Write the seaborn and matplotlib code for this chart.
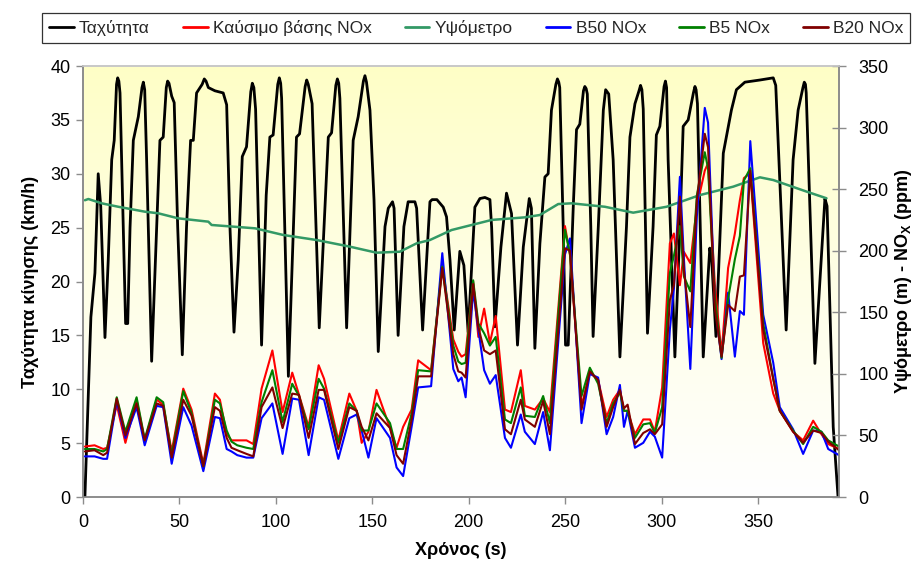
import numpy as np
import pandas as pd
import matplotlib
matplotlib.use("Agg")
import matplotlib.pyplot as plt
import seaborn as sns
from matplotlib.colors import LinearSegmentedColormap


# ============================================================
# DATA
# ============================================================

# Ταχύτητα (km/h)
speed_t = [1, 4.1, 6.2, 7.9, 9.2, 11.4, 13.1, 14.9, 16.2, 17.4, 18.0, 18.6, 19.2, 20.9, 22.1, 23.2, 24.4, 26.1, 28.7, 30.6, 31.3, 32.0, 33.0, 35.6,
           38.2, 39.9, 41.6, 43.2, 43.9, 44.6, 46.0, 47.3, 49.1, 51.5, 53.7, 55.8, 57.2, 58.9, 61.8, 62.9, 63.8, 65.0, 68.4, 72.7, 74.5, 76.2, 78.3, 80.5,
           82.6, 84.8, 87.0, 87.8, 88.6, 89.5, 92.6, 95.0, 96.9, 98.6, 101.0, 101.8, 102.5, 103.0, 106.5, 110.7, 112.3, 115.2, 116.0, 116.8, 117.7, 118.8, 122.5, 127.2, 128.9, 131.1, 131.9, 132.6,
           133.2, 136.7, 140.1, 142.7, 145.4, 146.2, 147.0, 148.8, 150.9, 153.1, 156.6, 158.3, 160.5, 161.3, 163.4, 166.4, 168.6, 172.1, 173.0, 176.1, 179.9, 181.0,
           183.5, 186.8, 188.5, 190.3, 192.5, 195.4, 197.5, 199.7, 203.2, 205.8, 208.4, 211.0, 211.9, 213.6, 216.7, 219.6, 222.2, 225.3, 228.3, 231.4,
           232.5, 234.3, 236.9, 239.5, 241.2, 242.9, 245.2, 246.0, 246.7, 247.2, 249.0, 250.2, 251.6, 254.2, 255.9, 257.6, 259.5, 260.2, 260.9, 261.5, 263.3, 264.5, 267.2, 269.8,
           271.0, 272.6, 274.9, 278.4, 281.8, 283.6, 286.2, 288.3, 289.1, 289.8, 290.5, 292.7, 295.6, 297.3, 299.1, 301.3, 302.0, 302.6, 303.4, 306.9, 309.5, 311.2, 313.8, 316.5, 317.3, 317.9,
           318.6, 321.6, 325.0, 326.0, 328.2, 332.0, 336.2, 338.8, 343.2, 351.0, 357.9, 359.2, 364.6, 368.2, 370.8, 373.3, 374.0, 374.6, 375.0, 379.5, 384.7, 385.8,
           389.0, 391.5]
speed_kmh = [0, 16.7, 20.8, 30.0, 27.0, 14.8, 22.0, 31.3, 33.1, 38.3, 38.9, 38.6, 37.5, 25.1, 16.1, 16.1, 25.0, 33.1, 35.3, 38.0, 38.5, 37.8, 31.3, 12.6,
             25.1, 33.1, 33.4, 38.0, 38.6, 38.4, 37.2, 36.6, 25.1, 13.2, 25.1, 33.1, 33.1, 37.5, 38.3, 38.8, 38.6, 38.0, 37.7, 37.5, 36.4, 25.1, 15.3, 22.0,
             31.6, 32.5, 37.6, 38.4, 38.0, 36.0, 14.1, 28.0, 33.4, 33.6, 38.3, 38.9, 38.4, 37.0, 11.2, 33.4, 33.7, 38.1, 38.7, 38.3, 37.5, 36.5, 15.7, 33.4, 33.8, 38.2, 38.8, 38.4,
             37.0, 15.7, 33.1, 35.3, 38.6, 39.1, 38.5, 35.9, 27.6, 13.5, 25.1, 26.8, 27.4, 26.8, 15.0, 25.1, 27.4, 27.4, 26.8, 15.5, 27.4, 27.6,
             27.6, 26.9, 26.0, 22.0, 15.5, 22.8, 21.5, 15.3, 26.9, 27.7, 27.8, 27.6, 25.0, 15.8, 23.2, 28.2, 26.3, 14.1, 23.2, 27.7,
             26.8, 13.8, 23.5, 29.7, 30.0, 35.9, 38.3, 38.8, 38.5, 38.0, 25.1, 14.1, 14.1, 26.9, 34.1, 34.6, 37.7, 38.1, 37.9, 37.4, 25.1, 14.9, 25.1, 35.9,
             37.8, 37.4, 31.3, 13.0, 25.1, 33.4, 36.5, 37.7, 38.2, 37.8, 36.0, 15.2, 25.1, 33.6, 34.4, 38.1, 38.6, 38.0, 31.3, 13.0, 25.0, 34.4, 35.0, 37.5, 38.1, 37.8,
             36.5, 13.0, 23.1, 22.0, 14.9, 31.9, 35.9, 37.8, 38.5, 38.7, 38.9, 38.2, 15.5, 31.3, 35.9, 38.0, 38.5, 38.3, 37.5, 12.4, 27.7, 27.0,
             6.5, 0.0]

# Υψόμετρο (m)
alt_t = [1, 2.8, 9.7, 18.3, 32.1, 39, 49.4, 65, 66.7, 89.2, 103.8, 121.1, 138.4, 152.2, 164.3, 173,
         179.9, 191.1, 211.9, 229.1, 236.9, 246.4, 253.3, 270.6, 285.3, 302.6, 319.9, 337.1, 351, 357.9, 375.2, 385.5]
alt_m = [241, 242, 238.5, 235.7, 231.7, 230.4, 226.3, 223.6, 220.9, 218.2, 212.8, 208.7, 203.3, 198.4, 199.2, 206,
         208.7, 216.8, 225, 227.1, 229, 237.9, 238.5, 235.7, 230.9, 235.7, 245.2, 252, 259.6, 257.4, 248, 242.6]

# NOx (ppm)
nox_t = [1, 6, 10.5, 12.5, 17.5, 22, 27.8, 32, 38.2, 41.6,
         46, 52, 56.3, 62.4, 68.4, 71, 74.5, 77, 80, 84.8,
         88.3, 92.6, 98.2, 103.5, 108.5, 112, 117, 122.2, 125, 132.4,
         138.1, 141.9, 144.5, 148, 152.2, 159.2, 162.6, 166, 170.4, 173.8,
         180.5, 186.3, 192, 194.6, 196.3, 198.4, 202.3, 205, 208, 211,
         214, 218.8, 221.9, 227, 229.1, 234.3, 238.6, 242.1, 249.9, 252.5,
         258.5, 262.8, 267.1, 271.5, 274.9, 278.4, 280.5, 282.4, 286.2, 290.5,
         294, 296.5, 300.3, 304.3, 306.4, 309.5, 311.6, 314.9, 318.3, 322.4,
         324.1, 327.6, 331.1, 334.5, 338, 340.6, 342.7, 346, 352.7, 357.9,
         361.3, 368.2, 373.4, 378.6, 382.9, 386.4, 392]

nox_base = [41, 42, 39, 40, 75, 44, 79, 46, 79, 75,
            37, 88, 71, 27, 84, 79, 51, 46, 46, 46,
            43, 88, 119, 69, 101, 83, 57, 107, 96, 46,
            84, 70, 44, 53, 87, 56, 40, 57, 71, 111,
            103, 188, 128, 118, 114, 116, 175, 130, 153, 125,
            147, 71, 69, 103, 74, 71, 80, 69, 220, 197,
            74, 101, 95, 65, 79, 87, 70, 70, 51, 63,
            63, 53, 89, 206, 214, 172, 199, 190, 236, 265,
            271, 173, 116, 186, 214, 241, 259, 263, 125, 84,
            70, 53, 46, 62, 51, 43, 39]

nox_b5 = [39, 39, 37, 39, 81, 53, 81, 47, 81, 77,
          34, 86, 68, 25, 79, 76, 54, 45, 42, 40,
          39, 77, 103, 61, 92, 82, 55, 96, 88, 44,
          76, 70, 54, 54, 76, 60, 39, 39, 68, 103,
          102, 187, 123, 110, 108, 109, 176, 141, 133, 123,
          130, 63, 60, 89, 66, 65, 82, 60, 217, 197,
          82, 105, 92, 60, 76, 85, 70, 70, 48, 59,
          60, 52, 73, 182, 196, 220, 179, 167, 245, 280,
          267, 162, 113, 161, 193, 212, 257, 267, 141, 96,
          70, 54, 43, 57, 53, 46, 41]

nox_b20 = [37, 38, 34, 36, 80, 50, 76, 46, 76, 74,
           32, 79, 66, 25, 73, 70, 48, 40, 38, 35,
           33, 73, 89, 56, 84, 83, 48, 87, 87, 39,
           73, 70, 57, 46, 68, 56, 34, 27, 63, 98,
           98, 186, 116, 102, 101, 97, 173, 138, 119, 116,
           119, 55, 51, 79, 63, 57, 78, 51, 202, 200,
           71, 102, 95, 57, 73, 87, 72, 75, 43, 52,
           55, 51, 59, 160, 172, 244, 184, 138, 241, 295,
           284, 153, 114, 156, 151, 179, 180, 265, 136, 96,
           70, 53, 44, 54, 52, 45, 38]

nox_b50 = [33, 33, 31, 31, 78, 48, 73, 42, 74, 73,
           27, 73, 58, 21, 65, 64, 39, 37, 34, 32,
           32, 64, 76, 35, 80, 79, 34, 81, 79, 31,
           64, 67, 54, 32, 64, 48, 24, 17, 57, 89,
           90, 198, 104, 94, 97, 81, 168, 136, 103, 92,
           99, 48, 40, 67, 53, 43, 69, 38, 197, 210,
           60, 100, 97, 51, 65, 91, 57, 70, 40, 44,
           53, 49, 32, 136, 169, 260, 193, 104, 228, 316,
           304, 158, 112, 166, 114, 151, 148, 289, 148, 109,
           73, 55, 35, 54, 53, 39, 34]

nox = pd.DataFrame({
    "t": nox_t,
    "base": nox_base,
    "b50": nox_b50,
    "b5": nox_b5,
    "b20": nox_b20,
})


# ============================================================
# STYLE
# ============================================================

sns.set_style("white")
plt.rcParams["font.family"] = ["Liberation Sans", "DejaVu Sans"]
plt.rcParams["mathtext.fontset"] = "custom"
plt.rcParams["mathtext.rm"] = "Liberation Sans"
plt.rcParams["mathtext.bf"] = "Liberation Sans:bold"

AXIS_GREY = "#8c8c8c"


# ============================================================
# PLOT
# ============================================================

fig, ax = plt.subplots(figsize=(9.23, 5.69), dpi=100)
fig.subplots_adjust(left=0.0899, right=0.909, bottom=0.1265, top=0.884)
ax2 = ax.twinx()

# background: pale yellow fading to white towards the bottom
grad = np.linspace(0, 1, 256).reshape(-1, 1)
bg_cmap = LinearSegmentedColormap.from_list("bg", ["#ffffff", "#fefee6", "#ffffc6"])
ax.imshow(grad, extent=[0, 1, 0, 1], transform=ax.transAxes, origin="lower",
          aspect="auto", cmap=bg_cmap, zorder=0)

sns.lineplot(x=speed_t, y=speed_kmh, ax=ax, color="black", lw=2.0,
             label="Ταχύτητα", legend=False, zorder=3)
h_speed = ax.lines[-1]

series = [
    ("base", "Καύσιμο βάσης NOx", "#ff0000"),
    ("alt", "Υψόμετρο", "#339966"),
    ("b50", "B50 NOx", "#0000ff"),
    ("b5", "B5 NOx", "#008000"),
    ("b20", "B20 NOx", "#800000"),
]

handles = [h_speed]
for key, label, color in series:
    if key == "alt":
        sns.lineplot(x=alt_t, y=alt_m, ax=ax2, color=color, lw=1.8,
                     label=label, legend=False)
    else:
        sns.lineplot(data=nox, x="t", y=key, ax=ax2, color=color, lw=1.5,
                     label=label, legend=False)
    handles.append(ax2.lines[-1])

ax.set_xlim(0, 392)
ax.set_ylim(0, 40)
ax2.set_ylim(0, 350)
ax.set_xticks(range(0, 351, 50))
ax.set_yticks(range(0, 41, 5))
ax2.set_yticks(range(0, 351, 50))

ax.set_xlabel("Χρόνος (s)", fontsize=13, fontweight="bold", labelpad=8)
ax.set_ylabel("Ταχύτητα κίνησης (km/h)", fontsize=13, fontweight="bold", labelpad=8)
ax2.set_ylabel(r"Υψόμετρο (m) - NO$_\mathbf{X}$ (ppm)", fontsize=13,
               fontweight="bold", labelpad=3)

ax.tick_params(axis="x", bottom=True, direction="out", length=5, width=1,
               color=AXIS_GREY, labelsize=13, labelcolor="black", pad=7)
ax.tick_params(axis="y", left=True, direction="out", length=5, width=1,
               color=AXIS_GREY, labelsize=13, labelcolor="black", pad=4)
ax2.tick_params(axis="y", right=True, direction="inout", length=10, width=1,
                color=AXIS_GREY, labelsize=13, labelcolor="black", pad=9)

for a in (ax, ax2):
    for side in ("left", "bottom", "right"):
        a.spines[side].set_color(AXIS_GREY)
        a.spines[side].set_linewidth(1.2)
    a.spines["top"].set_color("#c8c8c8")
    a.spines["top"].set_linewidth(1.2)
    a.xaxis.label.set_color("black")
    a.yaxis.label.set_color("black")

leg = fig.legend(
    handles,
    [h.get_label() for h in handles],
    loc="center",
    ncol=6,
    mode="expand",
    bbox_to_anchor=(0.046, 0.916, 0.94, 0.07),
    frameon=True,
    fancybox=False,
    edgecolor="black",
    handlelength=1.4,
    handletextpad=0.3,
    columnspacing=1.0,
    borderaxespad=0,
    prop={"family": ["Liberation Sans Narrow", "Liberation Sans"], "size": 12.5},
)
leg.get_frame().set_linewidth(0.9)
for h in leg.legend_handles:
    h.set_linewidth(2)

plt.savefig("out.png", dpi=100)
